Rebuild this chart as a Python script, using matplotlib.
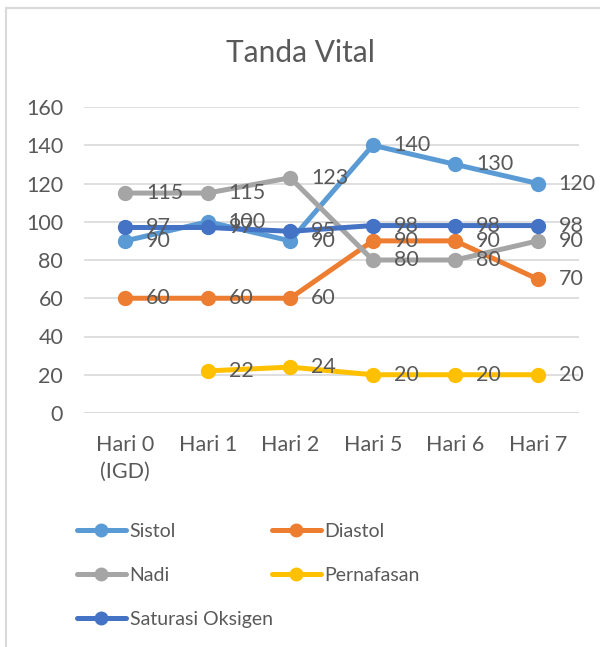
import matplotlib
matplotlib.use("Agg")
import matplotlib.pyplot as plt
from matplotlib.lines import Line2D
from matplotlib.patches import Rectangle
import numpy as np

plt.rcParams["font.family"] = ["Lato", "DejaVu Sans"]

# ---------------------------------------------------------------------------
# Data
# ---------------------------------------------------------------------------

days = ["Hari 0\n(IGD)", "Hari 1", "Hari 2", "Hari 5", "Hari 6", "Hari 7"]

sistol = [90, 100, 90, 140, 130, 120]
diastol = [60, 60, 60, 90, 90, 70]
nadi = [115, 115, 123, 80, 80, 90]
pernafasan = [None, 22, 24, 20, 20, 20]
saturasi = [97, 97, 95, 98, 98, 98]

series = [
    ("Sistol", sistol, "#5B9BD5"),
    ("Diastol", diastol, "#ED7D31"),
    ("Nadi", nadi, "#A5A5A5"),
    ("Pernafasan", pernafasan, "#FFC000"),
    ("Saturasi Oksigen", saturasi, "#4472C4"),
]

y_ticks = [0, 20, 40, 60, 80, 100, 120, 140, 160]

TEXT = "#595959"

# ---------------------------------------------------------------------------
# Figure
# ---------------------------------------------------------------------------

fig = plt.figure(figsize=(6.0, 6.47), dpi=100)
W, H = 600, 647

# light chart border (cropped at right/bottom)
fig.patches.append(Rectangle((6 / W, -0.1), 1.2, 1 - 8 / H + 0.1, transform=fig.transFigure,
                             fill=False, edgecolor="#D9D9D9", linewidth=1.5))

ax = fig.add_axes([84 / W, 1 - 413 / H, (579 - 84) / W, (413 - 107) / H])

x = np.arange(len(days))
handles = {}
for name, vals, color in series:
    xs = [xi for xi, v in zip(x, vals) if v is not None]
    ys = [v for v in vals if v is not None]
    ax.plot(xs, ys, color=color, linewidth=3.6, marker="o", markersize=10,
            solid_capstyle="round", zorder=3)
    handles[name] = Line2D([], [], color=color, linewidth=3.6, marker="o", markersize=9,
                           solid_capstyle="round")
    for xi, v in zip(xs, ys):
        ax.annotate(str(v), (xi, v), xytext=(15, 0), textcoords="offset points",
                    ha="left", va="center", fontsize=15.5, color=TEXT, zorder=4)

ax.set_xlim(-0.5, len(days) - 0.5)
ax.set_ylim(0, 160)
ax.set_yticks(y_ticks)
ax.set_xticks(x)
ax.set_xticklabels(days, linespacing=1.4)
ax.tick_params(axis="both", length=0, labelsize=15.5, labelcolor=TEXT)
ax.tick_params(axis="x", pad=16)
ax.tick_params(axis="y", pad=15)
ax.grid(axis="y", color="#D9D9D9", linewidth=1.2)
ax.set_axisbelow(True)
for s in ax.spines.values():
    s.set_visible(False)
ax.axhline(0, color="#D9D9D9", linewidth=1.2, zorder=1)

fig.text(0.5, 1 - 53 / H, "Tanda Vital", ha="center", va="center", fontsize=21.5, color=TEXT)

# legend: Excel-style grid, two columns placed separately
leg_kw = dict(loc="upper left", frameon=False, fontsize=14, labelcolor=TEXT,
              handlelength=2.5, handletextpad=0.2, labelspacing=1.38, borderpad=0,
              borderaxespad=0)
col1 = ["Sistol", "Nadi", "Saturasi Oksigen"]
col2 = ["Diastol", "Pernafasan"]
fig.legend([handles[n] for n in col1], col1, bbox_to_anchor=(77 / W, 1 - 523 / H), **leg_kw)
fig.legend([handles[n] for n in col2], col2, bbox_to_anchor=(272 / W, 1 - 523 / H), **leg_kw)

fig.savefig("out.png", dpi=100, facecolor="white")
